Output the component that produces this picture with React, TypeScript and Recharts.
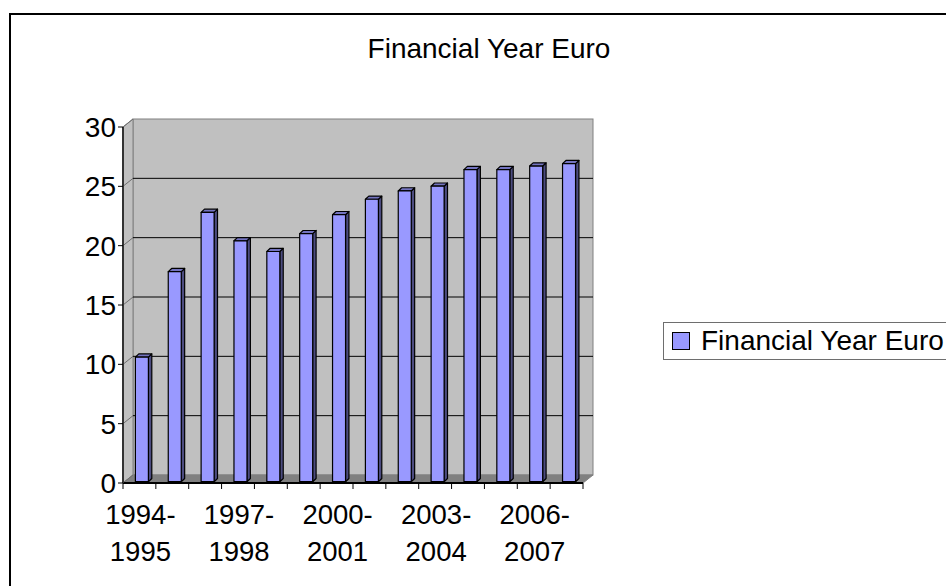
import React from 'react';
import { BarChart, Bar, XAxis, YAxis, ReferenceArea, ReferenceLine, Legend } from 'recharts';

const years = [
  '1994-1995', '1995-1996', '1996-1997', '1997-1998', '1998-1999', '1999-2000', '2000-2001',
  '2001-2002', '2002-2003', '2003-2004', '2004-2005', '2005-2006', '2006-2007', '2007-2008',
];
const euro = [10.5, 17.7, 22.7, 20.3, 19.4, 20.9, 22.5, 23.8, 24.5, 24.9, 26.3, 26.3, 26.6, 26.8];
const yTicks = [0, 5, 10, 15, 20, 25, 30];
const seriesName = 'Financial Year Euro';

const data = years.map((year, i) => ({ year, value: euro[i] }));

const FONT = '"Liberation Sans", Arial, sans-serif';
// depth of the 3d box (back wall offset)
const DX = 10;
const DY = -8;

// back wall, left wall and floor
const Walls = (p: any) => {
  const { x, y, width: w, height: h } = p;
  return (
    <g>
      <rect x={x + DX} y={y + DY} width={w} height={h} fill="#c0c0c0" stroke="#808080" strokeWidth={1} />
      <polygon
        points={`${x},${y} ${x + DX},${y + DY} ${x + DX},${y + h + DY} ${x},${y + h}`}
        fill="#c0c0c0"
        stroke="#808080"
      />
      <polygon
        points={`${x},${y + h} ${x + DX},${y + h + DY} ${x + w + DX},${y + h + DY} ${x + w},${y + h}`}
        fill="#808080"
        stroke="#808080"
      />
    </g>
  );
};

const wallLine = (edge: boolean) => (p: any) => {
  const { x1, y1, x2, y2 } = p;
  return (
    <g>
      <line x1={x1} y1={y1} x2={x1 + DX} y2={y1 + DY} stroke="#6e6e6e" />
      {!edge && <line x1={x1 + DX} y1={y1 + DY} x2={x2 + DX} y2={y2 + DY} stroke="#000" />}
    </g>
  );
};

// 3d column: front face, top and right side
const Column = (p: any) => {
  const { x, y, width: w, height: h } = p;
  if (h == null || isNaN(h)) return null;
  const fx = x + 2.4;
  const fy = y - 1.3;
  const d = 3.4;
  const dv = 3.2;
  return (
    <g stroke="#000" strokeWidth={1.2} strokeLinejoin="round">
      <polygon
        points={`${fx + w},${fy} ${fx + w + d},${fy - dv} ${fx + w + d},${fy + h - dv} ${fx + w},${fy + h}`}
        fill="#4c4c80"
      />
      <polygon
        points={`${fx},${fy} ${fx + d},${fy - dv} ${fx + w + d},${fy - dv} ${fx + w},${fy}`}
        fill="#7373bf"
      />
      <rect x={fx} y={fy} width={w} height={h} fill="#9999ff" />
    </g>
  );
};

const YearTick = (p: any) => {
  const { x, y, payload, index, width } = p;
  const half = payload && payload.offset ? payload.offset : width / years.length / 2;
  const top = y - 6;
  const [a, b] = String(payload.value).split('-');
  return (
    <g>
      <line x1={x - half} y1={top} x2={x - half} y2={y} stroke="#000" />
      {index === years.length - 1 && <line x1={x + half} y1={top} x2={x + half} y2={y} stroke="#000" />}
      {index % 3 === 0 && (
        <text textAnchor="middle" fill="#000" fontSize={27.5} fontFamily={FONT}>
          <tspan x={x + 1} y={y + 35}>{a}-</tspan>
          <tspan x={x + 1} y={y + 72}>{b}</tspan>
        </text>
      )}
    </g>
  );
};

const LegendBox = () => (
  <div
    style={{
      border: '1px solid #6e6e6e',
      height: 36,
      width: 320,
      boxSizing: 'content-box',
      display: 'flex',
      alignItems: 'center',
      fontFamily: FONT,
      fontSize: 28,
      color: '#000',
      background: '#fff',
    }}
  >
    <span
      style={{
        display: 'inline-block',
        width: 16,
        height: 16,
        border: '1px solid #000',
        background: '#9999ff',
        marginLeft: 8,
        marginRight: 11,
      }}
    />
    <span style={{ whiteSpace: 'nowrap', lineHeight: '36px' }}>{seriesName}</span>
  </div>
);

export default function App() {
  return (
    <div
      style={{
        position: 'absolute',
        left: 0,
        top: 0,
        width: 946,
        height: 586,
        overflow: 'hidden',
        background: '#fff',
        fontFamily: FONT,
      }}
    >
      <div
        style={{
          position: 'absolute',
          left: 9,
          top: 13,
          width: 1200,
          height: 1000,
          border: '2px solid #000',
          boxSizing: 'border-box',
        }}
      />
      <div
        style={{
          position: 'absolute',
          left: 0,
          top: 35,
          width: 978,
          textAlign: 'center',
          fontSize: 28,
          lineHeight: '28px',
          color: '#000',
        }}
      >
        {seriesName}
      </div>
      <div style={{ position: 'absolute', left: 0, top: 0 }}>
        <BarChart
          width={946}
          height={586}
          data={data}
          margin={{ top: 127, right: 363, left: 0, bottom: 23 }}
          barCategoryGap={0}
        >
          <ReferenceArea y1={0} y2={30} shape={Walls} zIndex={-200} ifOverflow="visible" />
          {yTicks.map((t) => (
            <ReferenceLine
              key={t}
              y={t}
              zIndex={-150}
              ifOverflow="visible"
              shape={wallLine(t === yTicks[0] || t === yTicks[yTicks.length - 1])}
            />
          ))}
          <Bar dataKey="value" name={seriesName} barSize={13} shape={Column} isAnimationActive={false} />
          <XAxis
            dataKey="year"
            interval={0}
            height={80}
            tickSize={6}
            tickMargin={0}
            tickLine={false}
            axisLine={{ stroke: '#000', strokeWidth: 2 }}
            tick={YearTick}
          />
          <YAxis
            width={123}
            domain={[0, 30]}
            ticks={yTicks}
            interval={0}
            tickSize={5}
            tickLine={{ stroke: '#000' }}
            axisLine={{ stroke: '#333', strokeWidth: 2 }}
            tick={{ fill: '#000', fontSize: 28, fontFamily: FONT }}
          />
          <Legend
            layout="horizontal"
            verticalAlign="middle"
            align="center"
            wrapperStyle={{ left: 663, top: 322, width: 330, height: 38 }}
            content={() => <LegendBox />}
          />
        </BarChart>
      </div>
    </div>
  );
}
